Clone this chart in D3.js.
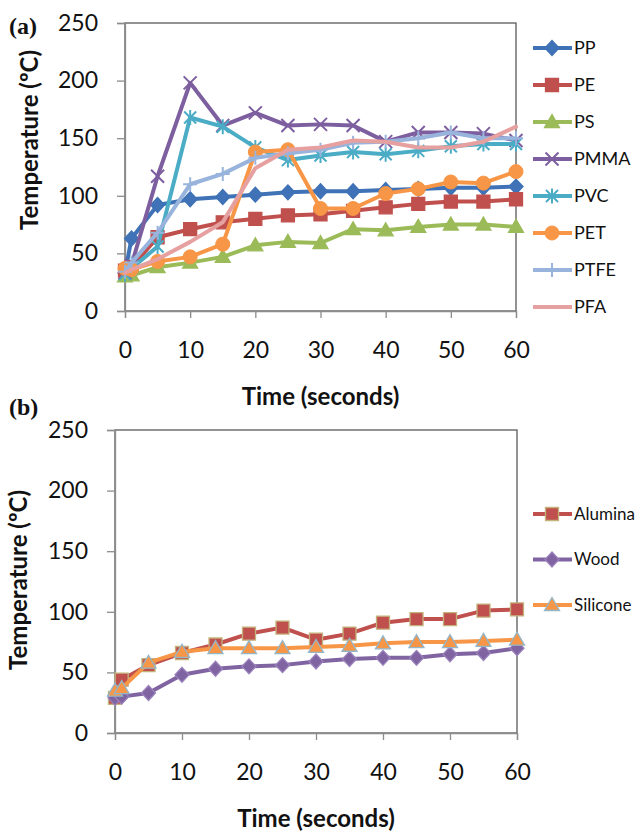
<!DOCTYPE html>
<html>
<head>
<meta charset="utf-8">
<script src="https://cdn.jsdelivr.net/npm/d3@7"></script>
<style>
  body { margin: 0; background: #fff; }
  svg { display: block; }
</style>
</head>
<body>
<div id="chart"></div>
<script>
// Temperature vs time, two panels

// shared x values and ticks
const times = [0, 1, 5, 10, 15, 20, 25, 30, 35, 40, 45, 50, 55, 60];
const xTicks = [0, 10, 20, 30, 40, 50, 60];
const yTicks = [0, 50, 100, 150, 200, 250];

// panel (a) - polymers
const ppTemps   = [33, 63, 92, 97, 99, 101, 103, 104, 104, 105, 106, 107, 107, 108];
const peTemps   = [35, 38, 64, 71, 77, 80, 83, 84, 87, 90, 93, 95, 95, 97];
const psTemps   = [30, 31, 38, 42, 47, 57, 60, 59, 71, 70, 73, 75, 75, 73];
const pmmaTemps = [33, 40, 117, 198, 161, 172, 161, 162, 161, 147, 155, 155, 154, 148];
const pvcTemps  = [32, 37, 56, 168, 160, 142, 131, 135, 138, 136, 139, 143, 145, 145];
const petTemps  = [37, 36, 43, 47, 58, 138, 140, 89, 89, 102, 106, 112, 111, 121];
const ptfeTemps = [34, 42, 68, 110, 119, 133, 137, 140, 146, 147, 150, 155, 150, 150];
const pfaTemps  = [33, 36, 45, 60, 77, 124, 140, 142, 148, 147, 142, 142, 147, 160];

// panel (b) - other materials
const aluminaTemps  = [29, 44, 56, 66, 73, 82, 87, 77, 82, 91, 94, 94, 101, 102];
const woodTemps     = [29, 30, 33, 48, 53, 55, 56, 59, 61, 62, 62, 65, 66, 70];
const siliconeTemps = [35, 37, 58, 67, 70, 70, 70, 71, 72, 74, 75, 75, 76, 77];

const seriesA = [
  { name: 'PP',   values: ppTemps,   color: '#3F72B6', marker: 'diamond' },
  { name: 'PE',   values: peTemps,   color: '#C0504D', marker: 'square' },
  { name: 'PS',   values: psTemps,   color: '#9BBB59', marker: 'triangle' },
  { name: 'PMMA', values: pmmaTemps, color: '#7D5FA0', marker: 'x' },
  { name: 'PVC',  values: pvcTemps,  color: '#4BACC6', marker: 'star' },
  { name: 'PET',  values: petTemps,  color: '#F79646', marker: 'circle' },
  { name: 'PTFE', values: ptfeTemps, color: '#98B4DC', marker: 'plus' },
  { name: 'PFA',  values: pfaTemps,  color: '#E6A0A0', marker: 'none' }
];

const seriesB = [
  { name: 'Alumina',  values: aluminaTemps,  color: '#C0504D', marker: 'square',   edge: '#C4B27C' },
  { name: 'Wood',     values: woodTemps,     color: '#8064A2', marker: 'diamond',  edge: '#9A82BC' },
  { name: 'Silicone', values: siliconeTemps, color: '#F79646', marker: 'triangle', edge: '#93B6C8' }
];

const fontSans = 'Lato, "Open Sans", sans-serif';

const svg = d3.select('#chart').append('svg')
  .attr('width', 636)
  .attr('height', 833);

// marker shapes, centered on 0,0
function markerPath(type) {
  switch (type) {
    case 'diamond':  return 'M0,-7.5L7,0L0,7.5L-7,0Z';
    case 'square':   return 'M-6.5,-6.5H6.5V6.5H-6.5Z';
    case 'triangle': return 'M0,-7.5L7.5,5.5L-7.5,5.5Z';
    case 'x':        return 'M-6.5,-6.5L6.5,6.5M-6.5,6.5L6.5,-6.5';
    case 'star':     return 'M-6,-6L6,6M-6,6L6,-6M0,-7.5V7.5';
    case 'plus':     return 'M-7,0H7M0,-7V7';
    default:         return null;
  }
}

function drawMarker(g, s, x, y) {
  if (s.marker === 'none') return;
  if (s.marker === 'circle') {
    g.append('circle')
      .attr('cx', x).attr('cy', y).attr('r', 7)
      .attr('fill', s.color)
      .attr('stroke', s.edge || s.color)
      .attr('stroke-width', 1);
    return;
  }
  const open = s.marker === 'x' || s.marker === 'star' || s.marker === 'plus';
  g.append('path')
    .attr('d', markerPath(s.marker))
    .attr('transform', `translate(${x},${y})`)
    .attr('fill', open ? 'none' : s.color)
    .attr('stroke', s.edge || s.color)
    .attr('stroke-width', open ? 2 : 1.3);
}

function drawPanel(cfg) {
  const x = d3.scaleLinear().domain([0, 60]).range([cfg.left, cfg.right]);
  const y = d3.scaleLinear().domain([0, 250]).range([cfg.bottom, cfg.top]);
  const g = svg.append('g');

  // frame of plot area
  g.append('rect')
    .attr('x', cfg.left).attr('y', cfg.top)
    .attr('width', cfg.right - cfg.left)
    .attr('height', cfg.bottom - cfg.top)
    .attr('fill', 'none')
    .attr('stroke', '#5a5a5a')
    .attr('stroke-width', 1.3);

  // axes
  const yAxis = g.append('g')
    .attr('transform', `translate(${cfg.left},0)`)
    .call(d3.axisLeft(y).tickValues(yTicks).tickSize(8).tickPadding(cfg.yPad));
  const xAxis = g.append('g')
    .attr('transform', `translate(0,${cfg.bottom})`)
    .call(d3.axisBottom(x).tickValues(xTicks).tickSize(7).tickPadding(24));
  [xAxis, yAxis].forEach(ax => {
    ax.select('.domain').attr('stroke', '#8c8c8c').attr('stroke-width', 1.3);
    ax.selectAll('.tick line').attr('stroke', '#8c8c8c').attr('stroke-width', 1.3);
    ax.selectAll('.tick text')
      .attr('font-family', fontSans)
      .attr('font-size', '23px')
      .attr('fill', '#111');
  });

  // axis titles
  g.append('text')
    .attr('x', (cfg.left + cfg.right) / 2)
    .attr('y', cfg.bottom + 94)
    .attr('text-anchor', 'middle')
    .attr('font-family', fontSans)
    .attr('font-weight', 'bold')
    .attr('font-size', '24px')
    .attr('fill', '#111')
    .text('Time (seconds)');

  g.append('text')
    .attr('transform', `translate(${cfg.yTitleX},${cfg.yTitleY}) rotate(-90)`)
    .attr('text-anchor', 'middle')
    .attr('font-family', fontSans)
    .attr('font-weight', 'bold')
    .attr('font-size', '24px')
    .attr('fill', '#111')
    .text('Temperature (ºC)');

  // panel tag
  g.append('text')
    .attr('x', 9).attr('y', cfg.tagY)
    .attr('font-family', '"Liberation Serif", "DejaVu Serif", serif')
    .attr('font-weight', 'bold')
    .attr('font-size', '24px')
    .attr('fill', '#111')
    .text(cfg.tag);

  // series: line then markers
  const line = d3.line()
    .x((d, i) => x(times[i]))
    .y(d => y(d));

  cfg.series.forEach(s => {
    const sg = g.append('g');
    sg.append('path')
      .attr('d', line(s.values))
      .attr('fill', 'none')
      .attr('stroke', s.color)
      .attr('stroke-width', 4)
      .attr('stroke-linejoin', 'round')
      .attr('stroke-linecap', 'round');
    s.values.forEach((v, i) => drawMarker(sg, s, x(times[i]), y(v)));
  });

  // legend
  cfg.series.forEach((s, i) => {
    const ly = cfg.legendY + i * cfg.legendStep;
    const lg = g.append('g');
    lg.append('line')
      .attr('x1', 533).attr('x2', 572)
      .attr('y1', ly).attr('y2', ly)
      .attr('stroke', s.color)
      .attr('stroke-width', 4);
    drawMarker(lg, s, 552, ly);
    lg.append('text')
      .attr('x', 574).attr('y', ly)
      .attr('dy', '0.35em')
      .attr('font-family', fontSans)
      .attr('font-size', cfg.legendFont)
      .attr('fill', '#111')
      .text(s.name);
  });
}

drawPanel({
  tag: '(a)', tagY: 34,
  left: 125, right: 516, top: 23, bottom: 311,
  yPad: 19, yTitleX: 38, yTitleY: 140,
  series: seriesA, legendY: 48, legendStep: 37, legendFont: '18px'
});

drawPanel({
  tag: '(b)', tagY: 415,
  left: 115, right: 517, top: 430, bottom: 733,
  yPad: 19, yTitleX: 27, yTitleY: 580,
  series: seriesB, legendY: 514, legendStep: 45.5, legendFont: '17px'
});
</script>
</body>
</html>
